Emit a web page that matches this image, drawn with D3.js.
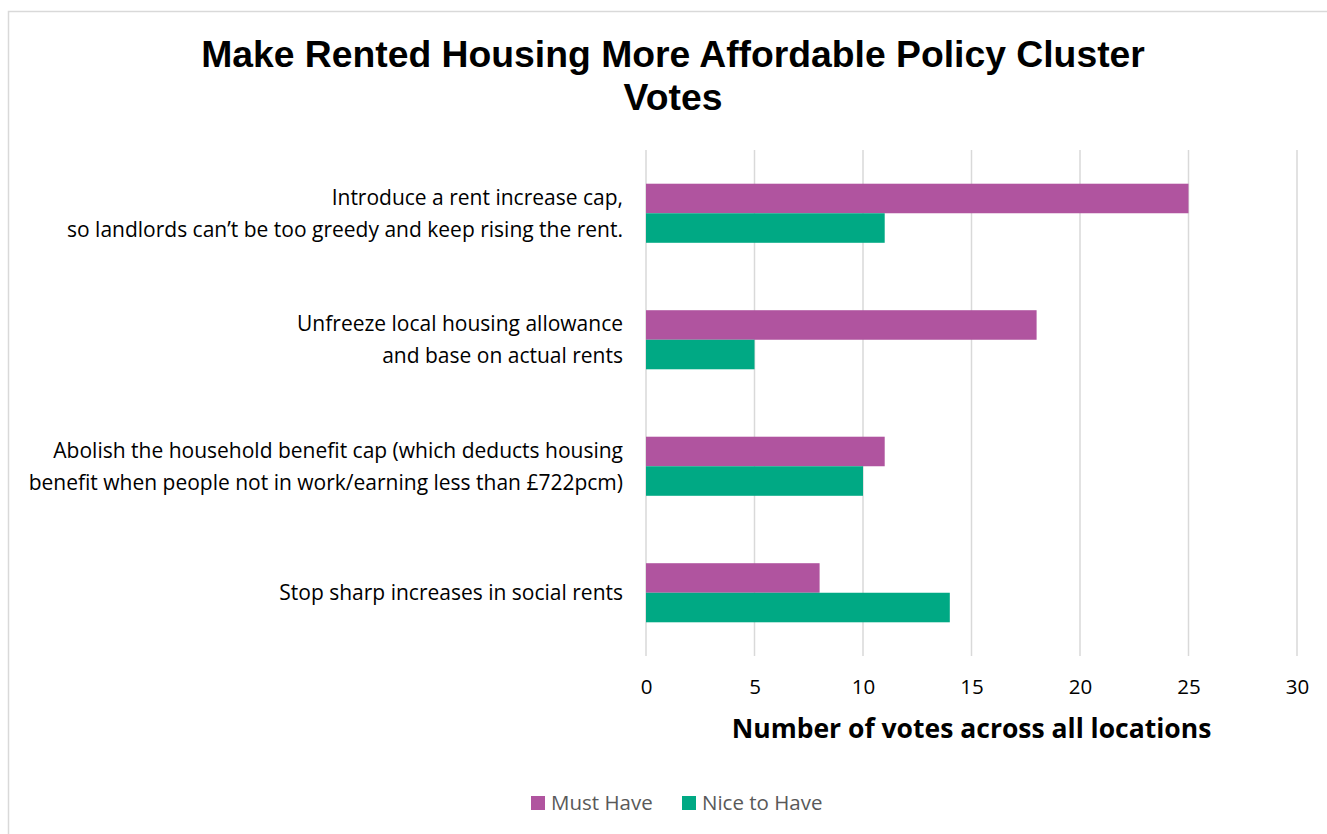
<!DOCTYPE html>
<html>
<head>
<meta charset="utf-8">
<script src="https://cdn.jsdelivr.net/npm/d3@7"></script>
<style>
  html, body { margin: 0; padding: 0; background: #fff; }
  svg { display: block; }
</style>
</head>
<body>
<svg id="chart" width="1327" height="834"></svg>
<script>
// Policy options (each split into the lines shown next to the bars)
const categories = [
  ["Introduce a rent increase cap,", "so landlords can’t be too greedy and keep rising the rent."],
  ["Unfreeze local housing allowance", "and base on actual rents"],
  ["Abolish the household benefit cap (which deducts housing", "benefit when people not in work/earning less than £722pcm)"],
  ["Stop sharp increases in social rents"]
];
const seriesNames = ["Must Have", "Nice to Have"];
const mustHave = [25, 18, 11, 8];
const niceToHave = [11, 5, 10, 14];
const xTicks = [0, 5, 10, 15, 20, 25, 30];
const colors = ["#b0549f", "#00a984"];

const svg = d3.select("#chart");
const labelFont = "'Open Sans', Lato, sans-serif";

// Outer chart frame
svg.append("rect")
  .attr("x", 8.5).attr("y", 11.5)
  .attr("width", 1340).attr("height", 840)
  .attr("fill", "#fff").attr("stroke", "#d9d9d9").attr("stroke-width", 1.5);

// Title
const title = svg.append("text")
  .attr("text-anchor", "middle")
  .attr("font-family", "'Liberation Sans', Arial, sans-serif")
  .attr("font-weight", "bold")
  .attr("font-size", 37.3)
  .attr("fill", "#000");
title.append("tspan").attr("x", 673).attr("y", 67).text("Make Rented Housing More Affordable Policy Cluster");
title.append("tspan").attr("x", 673).attr("y", 110).text("Votes");

const plot = { left: 646, right: 1297, top: 150, bottom: 656 };

const x = d3.scaleLinear().domain([0, 30]).range([plot.left, plot.right]);
const y = d3.scaleBand().domain(d3.range(categories.length)).range([plot.top, plot.bottom]).paddingInner(0.533).paddingOuter(0.2665);
const ySub = d3.scaleBand().domain([0, 1]).range([0, y.bandwidth()]);

// Vertical gridlines
svg.append("g")
  .selectAll("line")
  .data(xTicks)
  .join("line")
  .attr("x1", d => x(d)).attr("x2", d => x(d))
  .attr("y1", plot.top).attr("y2", plot.bottom)
  .attr("stroke", "#d9d9d9").attr("stroke-width", 1.5);

// Bars
const series = [mustHave, niceToHave];
series.forEach((vals, si) => {
  svg.append("g")
    .selectAll("rect")
    .data(vals)
    .join("rect")
    .attr("x", x(0))
    .attr("y", (d, i) => y(i) + ySub(si))
    .attr("width", d => x(d) - x(0))
    .attr("height", ySub.bandwidth())
    .attr("fill", colors[si]);
});

// X axis tick labels
const xAxis = d3.axisBottom(x).tickValues(xTicks).tickSize(0).tickPadding(0);
const gx = svg.append("g").attr("transform", `translate(0, 694)`).call(xAxis);
gx.select(".domain").remove();
gx.selectAll("text")
  .attr("font-family", labelFont)
  .attr("font-size", 20.5)
  .attr("fill", "#000")
  .attr("y", 0)
  .attr("dy", 0);

// X axis title
svg.append("text")
  .attr("x", x(15)).attr("y", 738)
  .attr("text-anchor", "middle")
  .attr("font-family", labelFont)
  .attr("font-weight", "bold")
  .attr("font-size", 26.5)
  .attr("fill", "#000")
  .text("Number of votes across all locations");

// Category labels
const catG = svg.append("g");
categories.forEach((lines, i) => {
  const cy = y(i) + y.bandwidth() / 2;
  const lh = 32;
  const t = catG.append("text")
    .attr("text-anchor", "end")
    .attr("font-family", labelFont)
    .attr("font-size", 21)
    .attr("fill", "#000");
  lines.forEach((ln, j) => {
    t.append("tspan")
      .attr("x", 623)
      .attr("y", cy + (j - (lines.length - 1) / 2) * lh)
      .attr("dy", "0.35em")
      .text(ln);
  });
});

// Legend
const legend = svg.append("g");
const legendItems = [
  { name: seriesNames[0], color: colors[0], x: 531 },
  { name: seriesNames[1], color: colors[1], x: 682 }
];
legendItems.forEach(it => {
  legend.append("rect")
    .attr("x", it.x).attr("y", 796).attr("width", 14).attr("height", 14)
    .attr("fill", it.color);
  legend.append("text")
    .attr("x", it.x + 20).attr("y", 803).attr("dy", "0.35em")
    .attr("font-family", labelFont)
    .attr("font-size", 20.5)
    .attr("fill", "#595959")
    .text(it.name);
});
</script>
</body>
</html>
